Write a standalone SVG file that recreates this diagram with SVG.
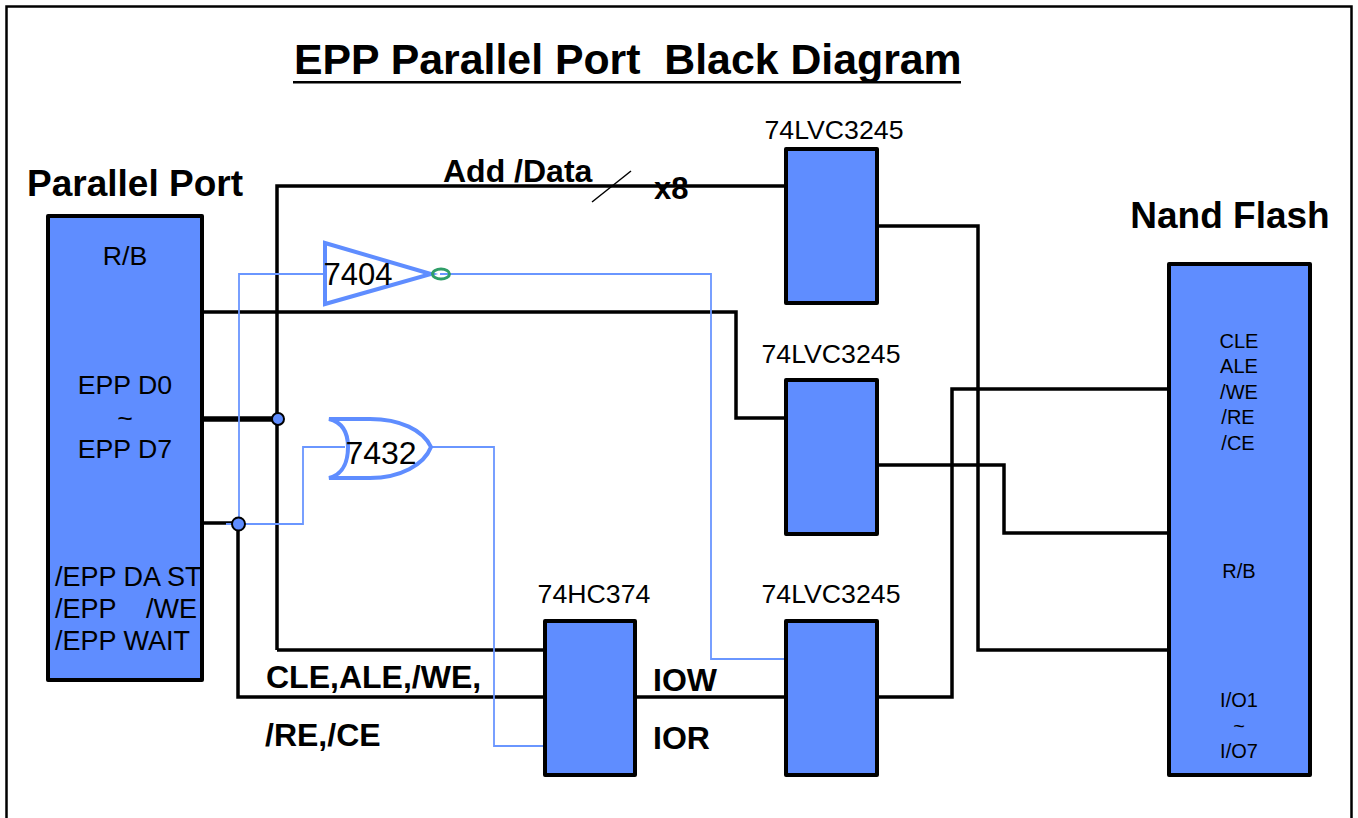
<svg xmlns="http://www.w3.org/2000/svg" width="1358" height="818" viewBox="0 0 1358 818">
<style>
text{font-family:"Liberation Sans",Arial,sans-serif;fill:#000}
.box{fill:#5f8dff;stroke:#000;stroke-width:4;stroke-linejoin:round}
.k{fill:none;stroke:#000;stroke-width:3.5;stroke-linejoin:miter}
.b{fill:none;stroke:#6a96ff;stroke-width:1.8}
.g{fill:none;stroke:#5f8dff;stroke-width:4}
.dot{fill:#5f8dff;stroke:#000;stroke-width:2}
.t{font-size:26.700px;text-anchor:middle}
.e{font-size:27px}
.s{font-size:20px;text-anchor:middle}
.h{font-size:37px;font-weight:bold}
.l{font-size:32px;font-weight:bold}
</style>
<rect width="1358" height="818" fill="#fff"/>
<path d="M6.500 830V6.500H1351.500V830" fill="none" stroke="#000" stroke-width="2.500"/>
<g id="title">
<text x="294" y="74" font-size="42.800" font-weight="bold" xml:space="preserve">EPP Parallel Port  Black Diagram</text>
<rect x="293" y="81" width="668" height="2.500" fill="#000"/>
</g>
<g id="connectors">
<path class="k" d="M277 650V186H786"/>
<path class="k" d="M203 312H736V418H786"/>
<path d="M203 419H277" fill="none" stroke="#000" stroke-width="5.500"/>
<path class="k" d="M203 523H238V697H545"/>
<path class="k" d="M277 650H545"/>
<path class="k" d="M635 697H786"/>
<path class="k" d="M876 697H952V389H1169"/>
<path class="k" d="M877 226H978V650H1169"/>
<path class="k" d="M877 465H1004V533H1169"/>
<path d="M592 202L631 171" fill="none" stroke="#000" stroke-width="1.500"/>
<path class="b" d="M226 524H303V447H345"/>
<path class="b" d="M239 524V274H325"/>
<path class="b" d="M440 274H711V659H786"/>
<path class="b" d="M431 447H494V746H545"/>
<circle class="dot" cx="278" cy="419" r="6"/>
<circle class="dot" cx="238.500" cy="524" r="6.500"/>
</g>
<g id="parallel-port">
<rect class="box" x="48" y="216" width="154" height="464"/>
<text x="135" y="196" class="h" text-anchor="middle">Parallel Port</text>
<text x="125" y="265" class="t">R/B</text>
<text x="125" y="394" class="t">EPP D0</text>
<text x="125" y="427" class="t">~</text>
<text x="125" y="458" class="t">EPP D7</text>
<text x="55" y="586" class="e">/EPP DA ST</text>
<text x="55" y="618" class="e" xml:space="preserve">/EPP    /WE</text>
<text x="55" y="650" class="e">/EPP WAIT</text>
</g>
<g id="u7404">
<path class="g" d="M325 243L431 274L325 304Z"/>
<ellipse cx="441" cy="274" rx="8.500" ry="5" fill="none" stroke="#2f9e68" stroke-width="3"/>
<text x="358" y="285" font-size="31" text-anchor="middle">7404</text>
</g>
<g id="u7432">
<path class="g" d="M329 419H370C400 419 423 430 431 447C424 465 400 478 370 478H329C345 474 348 458 348 447C348 436 345 423 329 419Z"/>
<text x="381" y="464" font-size="32" text-anchor="middle">7432</text>
</g>
<g id="u1">
<rect class="box" x="786" y="149" width="91" height="154"/>
<text x="834" y="139" class="t">74LVC3245</text>
</g>
<g id="u2">
<rect class="box" x="786" y="380" width="91" height="154"/>
<text x="831" y="363" class="t">74LVC3245</text>
</g>
<g id="u3">
<rect class="box" x="786" y="621" width="91" height="154"/>
<text x="831" y="603" class="t">74LVC3245</text>
</g>
<g id="u374">
<rect class="box" x="545" y="621" width="90" height="154"/>
<text x="594" y="603" class="t">74HC374</text>
</g>
<g id="nand-flash">
<rect class="box" x="1169" y="264" width="141" height="511"/>
<text x="1230" y="228" class="h" text-anchor="middle">Nand Flash</text>
<text x="1239" y="348" class="s">CLE</text>
<text x="1239" y="373" class="s">ALE</text>
<text x="1239" y="399" class="s">/WE</text>
<text x="1238" y="424" class="s">/RE</text>
<text x="1238" y="450" class="s">/CE</text>
<text x="1239" y="578" class="s">R/B</text>
<text x="1239" y="707" class="s">I/O1</text>
<text x="1239" y="733" class="s">~</text>
<text x="1239" y="758" class="s">I/O7</text>
</g>
<g id="labels">
<text x="443" y="182" class="l">Add /Data</text>
<text x="654" y="199" font-size="31" font-weight="bold">x8</text>
<text x="266" y="688" class="l">CLE,ALE,/WE,</text>
<text x="265" y="746" class="l">/RE,/CE</text>
<text x="653" y="691" class="l">IOW</text>
<text x="653" y="749" class="l">IOR</text>
</g>
</svg>
